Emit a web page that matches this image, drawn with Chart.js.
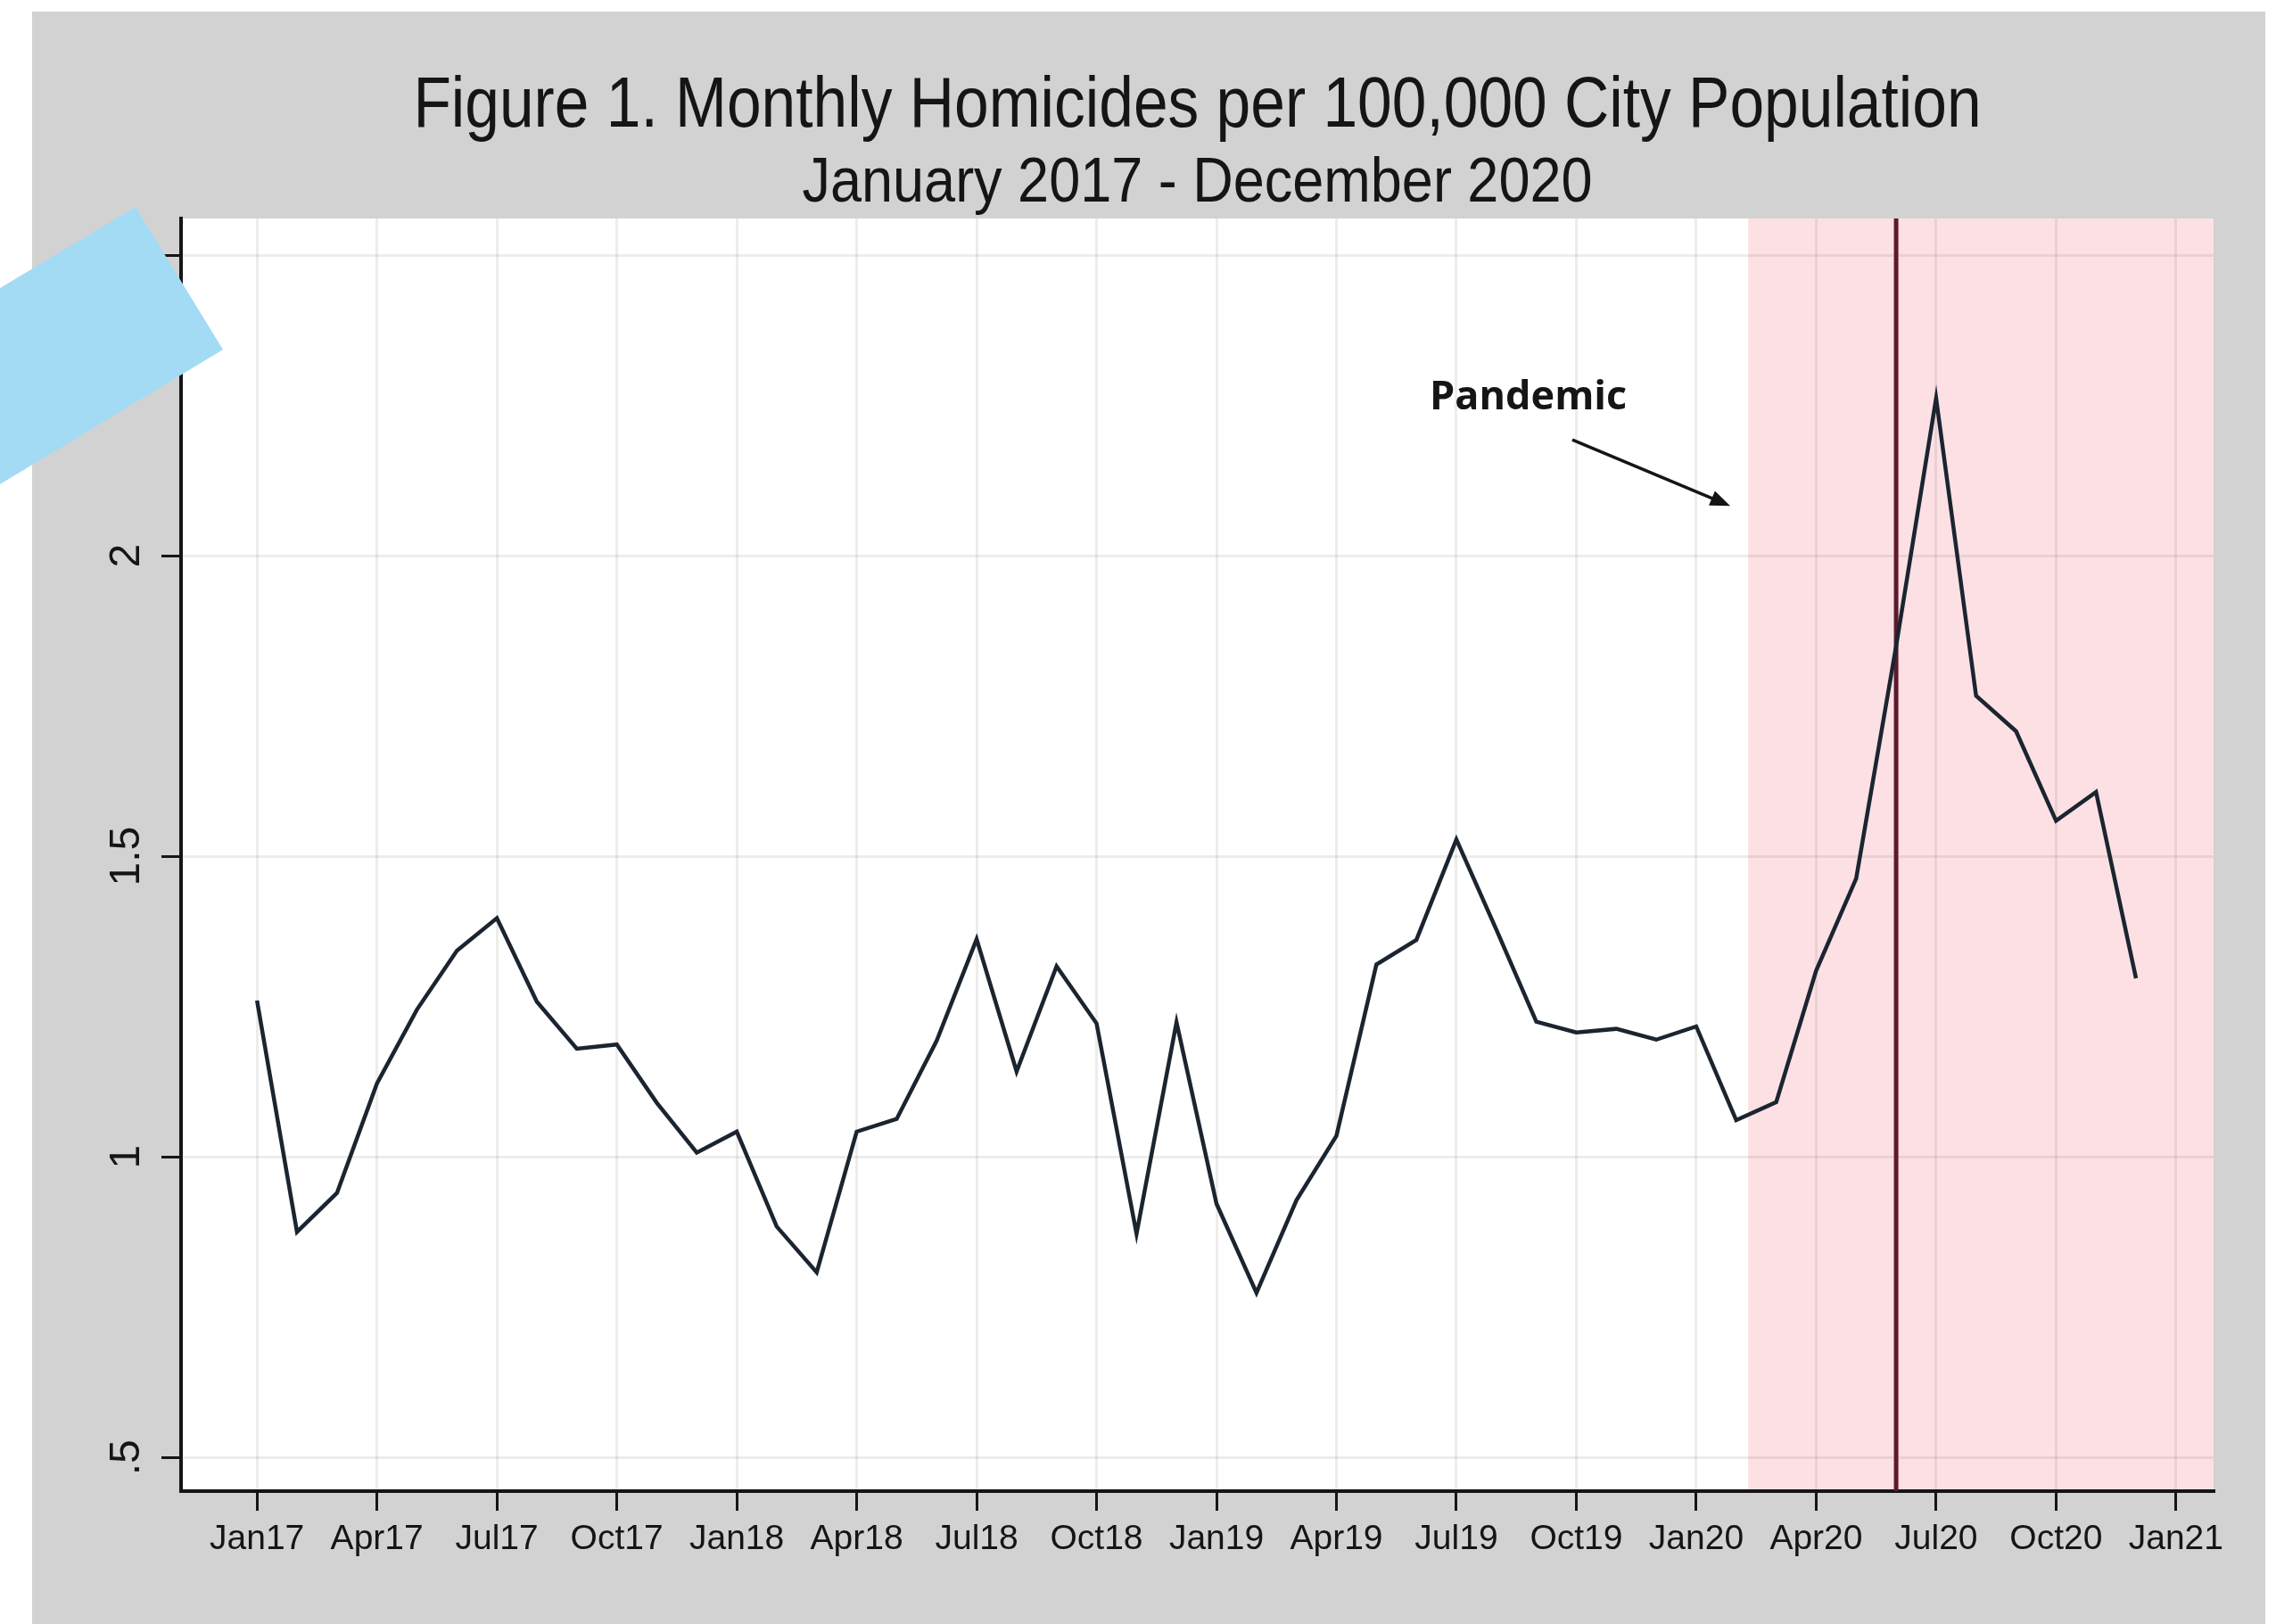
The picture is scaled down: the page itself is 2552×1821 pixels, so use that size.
<!DOCTYPE html>
<html>
<head>
<meta charset="utf-8">
<title>Monthly Homicides per 100,000 City Population</title>
<script src="https://cdn.jsdelivr.net/npm/chart.js@4.4.1/dist/chart.umd.min.js"></script>
<style>
  html, body { margin: 0; padding: 0; background: #fff; overflow: hidden; }
  #panel { position: absolute; left: 36px; top: 13px; width: 2504px; height: 1808px; background: #d2d2d2; }
  #sticker { position: absolute; left: 0; top: 0; width: 260px; height: 560px; background: #a3dbf5;
             clip-path: polygon(0px 323px, 152px 232px, 250px 392px, 0px 543px); }
</style>
</head>
<body>
<div id="panel"><canvas id="homChart" width="2504" height="1808"></canvas></div>
<div id="sticker"></div>
<script>
// homicides per 100,000 city population, one value per month
var rate2017 = [1.26, 0.875, 0.94, 1.122, 1.245, 1.343, 1.397, 1.258, 1.18, 1.187, 1.09, 1.007];
var rate2018 = [1.042, 0.884, 0.808, 1.042, 1.063, 1.193, 1.362, 1.142, 1.317, 1.222, 0.872, 1.224];
var rate2019 = [0.922, 0.774, 0.928, 1.035, 1.32, 1.361, 1.528, 1.378, 1.225, 1.207, 1.213, 1.195];
var rate2020 = [1.217, 1.061, 1.091, 1.31, 1.463, 1.85, 2.262, 1.767, 1.708, 1.559, 1.607, 1.297];
var rates = rate2017.concat(rate2018, rate2019, rate2020);

// x axis: month index, 0 = Jan17
var xTickPos = [0, 3, 6, 9, 12, 15, 18, 21, 24, 27, 30, 33, 36, 39, 42, 45, 48];
var xTickLabels = ['Jan17', 'Apr17', 'Jul17', 'Oct17', 'Jan18', 'Apr18', 'Jul18', 'Oct18',
  'Jan19', 'Apr19', 'Jul19', 'Oct19', 'Jan20', 'Apr20', 'Jul20', 'Oct20', 'Jan21'];
var yTickVals = [0.5, 1, 1.5, 2, 2.5];
var yTickLabels = ['.5', '1', '1.5', '2', '2.5'];

var xMin = -1.9, xMax = 48.94;
var yMin = 0.444, yMax = 2.561;

var titleText = 'Figure 1. Monthly Homicides per 100,000 City Population';
var subtitleText = 'January 2017 - December 2020';

// pandemic shading and marker line (month index)
var pandemicStart = 37.3;
var markerMonth = 41;
// "Pandemic" label and arrow, in data units
var noteAt = { x: 31.8, y: 2.262 };
var arrowFrom = { x: 32.9, y: 2.193 };
var arrowTo = { x: 36.85, y: 2.083 };

var points = rates.map(function (v, i) { return { x: i, y: v }; });

var gridColor = 'rgba(0,0,0,0.07)';
var inkColor = '#151515';
var sans = '"Liberation Sans", Arial, sans-serif';

// Stata-ish narrow heading text
function narrowText(ctx, text, cx, baseY, size, squeeze) {
  ctx.save();
  ctx.font = size + 'px ' + sans;
  ctx.fillStyle = inkColor;
  ctx.textAlign = 'center';
  ctx.textBaseline = 'alphabetic';
  ctx.translate(cx, baseY);
  ctx.scale(squeeze, 1);
  ctx.fillText(text, 0, 0);
  ctx.restore();
}

var pandemicPlugin = {
  id: 'pandemic',
  beforeDraw: function (chart) {
    var ctx = chart.ctx, a = chart.chartArea, xs = chart.scales.x;
    ctx.save();
    ctx.fillStyle = '#ffffff';
    ctx.fillRect(a.left, a.top, a.right - a.left, a.bottom - a.top);
    var x0 = xs.getPixelForValue(pandemicStart);
    ctx.fillStyle = '#fde0e4';
    ctx.fillRect(x0, a.top, a.right - x0, a.bottom - a.top);
    ctx.restore();
  },
  beforeDatasetsDraw: function (chart) {
    var ctx = chart.ctx, a = chart.chartArea;
    var x = chart.scales.x.getPixelForValue(markerMonth);
    ctx.save();
    ctx.strokeStyle = '#5c1a2e';
    ctx.lineWidth = 5;
    ctx.beginPath();
    ctx.moveTo(x, a.top);
    ctx.lineTo(x, a.bottom);
    ctx.stroke();
    ctx.restore();
  },
  afterDatasetsDraw: function (chart) {
    var ctx = chart.ctx, xs = chart.scales.x, ys = chart.scales.y;
    ctx.save();
    ctx.fillStyle = inkColor;
    ctx.font = 'bold 45px "Open Sans"';
    ctx.textAlign = 'center';
    ctx.textBaseline = 'middle';
    ctx.fillText('Pandemic', xs.getPixelForValue(noteAt.x), ys.getPixelForValue(noteAt.y));

    var x1 = xs.getPixelForValue(arrowFrom.x), y1 = ys.getPixelForValue(arrowFrom.y);
    var x2 = xs.getPixelForValue(arrowTo.x), y2 = ys.getPixelForValue(arrowTo.y);
    var ang = Math.atan2(y2 - y1, x2 - x1);
    var head = 24;
    ctx.strokeStyle = inkColor;
    ctx.lineWidth = 3.5;
    ctx.beginPath();
    ctx.moveTo(x1, y1);
    ctx.lineTo(x2 - head * 0.8 * Math.cos(ang), y2 - head * 0.8 * Math.sin(ang));
    ctx.stroke();
    ctx.beginPath();
    ctx.moveTo(x2, y2);
    ctx.lineTo(x2 - head * Math.cos(ang - 0.38), y2 - head * Math.sin(ang - 0.38));
    ctx.lineTo(x2 - head * Math.cos(ang + 0.38), y2 - head * Math.sin(ang + 0.38));
    ctx.closePath();
    ctx.fill();
    ctx.restore();
  },
  afterDraw: function (chart) {
    // headings are centred over the plot region, not the whole canvas
    var a = chart.chartArea, cx = (a.left + a.right) / 2;
    narrowText(chart.ctx, titleText, cx, 129, 79, 0.88);
    narrowText(chart.ctx, subtitleText, cx, 213, 70, 0.9);
  }
};

var ctx = document.getElementById('homChart').getContext('2d');
var homChart = new Chart(ctx, {
  type: 'line',
  data: {
    datasets: [{
      label: 'Homicides per 100,000',
      data: points,
      borderColor: '#1b2530',
      borderWidth: 4.5,
      pointRadius: 0,
      tension: 0,
      fill: false
    }]
  },
  options: {
    responsive: false,
    animation: false,
    devicePixelRatio: 1,
    layout: { padding: { left: 0, right: 58, top: 232, bottom: 49 } },
    plugins: {
      legend: { display: false },
      tooltip: { enabled: false },
      title: { display: false }
    },
    scales: {
      x: {
        type: 'linear',
        min: xMin,
        max: xMax,
        afterBuildTicks: function (s) { s.ticks = xTickPos.map(function (v) { return { value: v }; }); },
        afterFit: function (s) { s.height = 100; },
        ticks: {
          autoSkip: false,
          maxRotation: 0,
          padding: 9,
          color: inkColor,
          font: { family: sans, size: 39 },
          callback: function (v, i) { return xTickLabels[i]; }
        },
        grid: { color: gridColor, lineWidth: 3, tickLength: 22, tickColor: inkColor, tickWidth: 3 },
        border: { display: true, color: inkColor, width: 4 }
      },
      y: {
        type: 'linear',
        min: yMin,
        max: yMax,
        afterBuildTicks: function (s) { s.ticks = yTickVals.map(function (v) { return { value: v }; }); },
        afterFit: function (s) { s.width = 167; },
        ticks: {
          minRotation: 90,
          maxRotation: 90,
          crossAlign: 'center',
          padding: 5,
          color: inkColor,
          font: { family: sans, size: 48 },
          callback: function (v, i) { return yTickLabels[i]; }
        },
        grid: { color: gridColor, lineWidth: 3, tickLength: 22, tickColor: inkColor, tickWidth: 3 },
        border: { display: true, color: inkColor, width: 4 }
      }
    }
  },
  plugins: [pandemicPlugin]
});
</script>
</body>
</html>
